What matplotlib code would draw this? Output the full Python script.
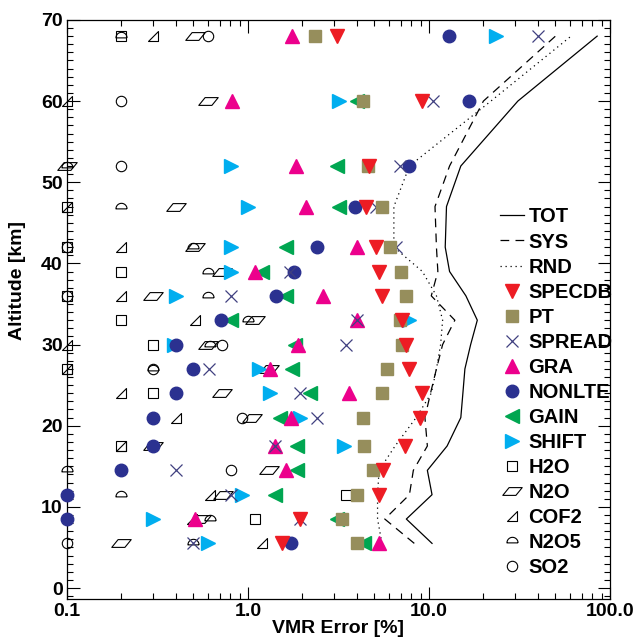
import numpy as np
import matplotlib
matplotlib.use("Agg")
import matplotlib.pyplot as plt
from matplotlib.path import Path
from matplotlib.ticker import FixedLocator, MultipleLocator, NullFormatter

plt.rcParams["font.family"] = ["Liberation Sans", "DejaVu Sans"]
plt.rcParams["font.weight"] = "bold"

nan = np.nan

# ── data ──────────────────────────────────────────────────────────────────────
altitude = [5.5, 8.5, 11.5, 14.5, 17.5, 21, 24, 27, 30, 33, 36, 39, 42, 47, 52, 60, 68]

tot = [10.4, 7.5, 10.4, 9.8, 12.6, 15.0, 15.4, 15.8, 17.0, 18.5, 16.0, 13.0, 12.3, 12.5, 15.0, 31.0, 85.0]
sys_err = [8.3, 5.7, 7.8, 8.2, 9.8, 9.5, 10.2, 11.0, 11.9, 13.9, 10.3, 11.2, 11.0, 10.8, 13.0, 20.0, 50.0]
rnd = [5.5, 5.2, 5.2, 5.3, 6.5, 8.5, 10.3, 11.0, 11.6, 11.9, 11.0, 9.2, 6.4, 6.4, 7.8, 22.0, 61.0]

specdb = [1.54, 1.94, 5.3, 5.6, 7.4, 8.9, 9.2, 7.8, 7.5, 7.1, 5.5, 5.3, 5.1, 4.5, 4.65, 9.2, 3.1]
pt     = [4.0, 3.3, 4.0, 4.9, 4.4, 4.3, 5.5, 5.9, 7.1, 6.9, 7.5, 7.0, 6.1, 5.5, 4.6, 4.3, 2.35]
spread = [0.5, 1.94, 0.81, 0.4, 1.41, 2.4, 1.93, 0.61, 3.5, 4.0, 0.81, 1.7, 6.6, 5.1, 6.9, 10.5, 40.0]
gra    = [5.3, 0.51, nan, 1.62, 1.41, 1.73, 3.6, 1.32, 1.9, 4.0, 2.6, 1.1, 4.0, 2.1, 1.84, 0.82, 1.74]
nonlte = [1.73, 0.1, 0.1, 0.2, 0.3, 0.3, 0.4, 0.5, 0.4, 0.71, 1.42, 1.8, 2.4, 3.9, 7.8, 16.6, 12.9]
gain   = [4.4, 3.1, 1.41, 1.86, 1.86, 1.5, 2.2, 1.75, 1.82, 0.81, 1.63, 1.2, 1.63, 3.2, 3.1, 4.0, nan]
shift  = [0.6, 0.3, 0.93, nan, 3.4, 1.94, 1.32, 1.15, 0.39, 7.8, 0.4, 0.81, 0.81, 1.0, 0.81, 3.2, 23.5]
h2o    = [nan, 1.1, 3.5, nan, 0.2, nan, 0.3, 0.1, 0.3, 0.2, 0.1, 0.2, 0.1, 0.1, nan, nan, 0.2]
n2o    = [0.2, 0.55, 0.73, 1.3, 0.3, 1.05, 0.72, 1.3, 0.6, 1.1, 0.3, 0.72, 0.51, 0.4, 0.1, 0.6, 0.51]
cof2   = [1.2, 0.49, 0.62, nan, 0.2, 0.4, 0.2, 0.1, 0.1, 0.51, 0.2, nan, 0.2, 0.1, nan, 0.1, 0.3]
n2o5   = [0.5, 0.62, 0.2, 0.1, nan, nan, nan, 0.3, 0.62, 1.0, 0.6, 0.6, 0.5, 0.2, 0.1, nan, 0.2]
so2    = [0.1, nan, nan, 0.81, nan, 0.93, nan, 0.3, 0.72, nan, 0.1, nan, 0.1, nan, 0.2, 0.2, 0.6]

# ── custom open markers ───────────────────────────────────────────────────────
para = Path([(-1.0, -0.4), (0.35, -0.4), (1.0, 0.4), (-0.35, 0.4), (-1.0, -0.4)],
            [Path.MOVETO, Path.LINETO, Path.LINETO, Path.LINETO, Path.CLOSEPOLY])
rtri = Path([(-0.5, -0.5), (0.5, -0.5), (0.5, 0.5), (-0.5, -0.5)],
            [Path.MOVETO, Path.LINETO, Path.LINETO, Path.CLOSEPOLY])
t = np.linspace(0, np.pi, 25)
half = Path(np.vstack([np.c_[np.cos(t), np.sin(t)], [[1.0, 0.0]]]) - [0, 0.25])

# (label, values, marker, colour, size, filled)
series = [
    ("SPECDB", specdb, "v", "#ED1C24", 10, True),
    ("PT", pt, "s", "#968E5C", 8.5, True),
    ("SPREAD", spread, "x", "#404080", 8, True),
    ("GRA", gra, "^", "#EC008C", 10, True),
    ("NONLTE", nonlte, "o", "#2B3190", 9, True),
    ("GAIN", gain, "<", "#00A651", 10, True),
    ("SHIFT", shift, ">", "#00AEEF", 10, True),
    ("H2O", h2o, "s", "black", 7, False),
    ("N2O", n2o, para, "black", 14, False),
    ("COF2", cof2, rtri, "black", 7, False),
    ("N2O5", n2o5, half, "black", 8, False),
    ("SO2", so2, "o", "black", 7.5, False),
]

# ── plot ──────────────────────────────────────────────────────────────────────
fig = plt.figure(figsize=(6.38, 6.42), dpi=100)
ax = fig.add_axes([0.105, 0.067, 0.851, 0.902])

ax.plot(tot, altitude, color="black", lw=0.9, ls="-", label="TOT")
ax.plot(sys_err, altitude, color="black", lw=0.9, ls=(0, (7, 5)), label="SYS")
ax.plot(rnd, altitude, color="black", lw=0.9, ls=(0, (1, 3)), label="RND")

n = len(series)
for i, (lab, vals, mk, col, ms, filled) in enumerate(series):
    if filled:
        kw = dict(color=col, markeredgecolor=col, markerfacecolor=col)
        if mk == "x":
            kw["markeredgewidth"] = 0.9
    else:
        kw = dict(color=col, markeredgecolor="black", markerfacecolor="none", markeredgewidth=0.8)
    ax.plot(vals, altitude, ls="none", marker=mk, markersize=ms, label=lab,
            zorder=3 + (n - i) * 0.01, clip_on=False, **kw)

ax.set_xscale("log")
ax.set_xlim(0.1, 100)
ax.set_ylim(-1.35, 70)

ax.xaxis.set_major_locator(FixedLocator([0.1, 1, 10, 100]))
ax.set_xticklabels(["0.1", "1.0", "10.0", "100.0"])
ax.xaxis.set_minor_locator(FixedLocator([m * d for d in (0.1, 1, 10) for m in range(2, 10)]))
ax.xaxis.set_minor_formatter(NullFormatter())
ax.yaxis.set_major_locator(MultipleLocator(10))
ax.yaxis.set_minor_locator(MultipleLocator(1))

ax.tick_params(which="both", direction="in", top=True, right=True, labelsize=14, width=0.8)
ax.tick_params(which="major", length=9)
ax.tick_params(which="minor", length=4.5)
ax.tick_params(axis="x", pad=3)
ax.tick_params(axis="y", pad=3)
for sp in ax.spines.values():
    sp.set_linewidth(0.9)

ax.set_xlabel("VMR Error [%]", fontsize=14, fontweight="bold", labelpad=0)
ax.set_ylabel("Altitude [km]", fontsize=14, fontweight="bold")
ax.yaxis.set_label_coords(-0.075, 0.55)

ax.legend(loc="upper left", bbox_to_anchor=(0.783, 0.69), frameon=False, fontsize=14.5,
          handlelength=1.2, handletextpad=0.2, labelspacing=0.3, borderaxespad=0,
          numpoints=1)

plt.savefig("out.png", dpi=100)
